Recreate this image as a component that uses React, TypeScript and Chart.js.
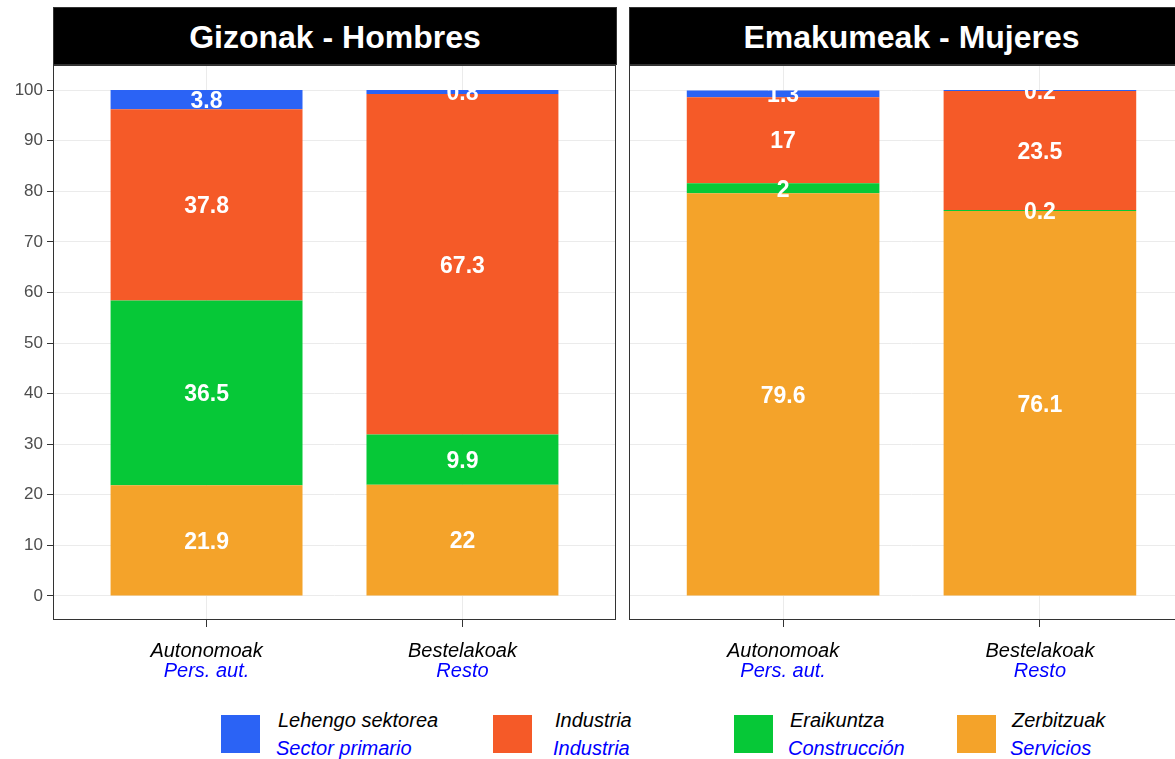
import React, { useEffect, useRef } from "react";
import { Chart, registerables } from "chart.js";

Chart.register(...registerables);

const FONT = '"Liberation Sans", Arial, Helvetica, sans-serif';

// ---- data ----
const categories = ["Autonomoak", "Bestelakoak"];
const categoriesEs = ["Pers. aut.", "Resto"];
const panelTitles = ["Gizonak - Hombres", "Emakumeak - Mujeres"];
const sectors = ["Lehengo sektorea", "Industria", "Eraikuntza", "Zerbitzuak"];
const sectorsEs = ["Sector primario", "Industria", "Construcción", "Servicios"];

const menPrimary = [3.8, 0.8];
const menIndustry = [37.8, 67.3];
const menConstruction = [36.5, 9.9];
const menServices = [21.9, 22];

const womenPrimary = [1.3, 0.2];
const womenIndustry = [17, 23.5];
const womenConstruction = [2, 0.2];
const womenServices = [79.6, 76.1];

const yTicks = [0, 10, 20, 30, 40, 50, 60, 70, 80, 90, 100];

// ---- style ----
const sectorColors = ["#2B63F5", "#F55A28", "#06C837", "#F4A32A"];
const legendKeyX = [221, 493, 734, 957];
const legendTextX = [278, 555, 790, 1012];

type Series = { primary: number[]; industry: number[]; construction: number[]; services: number[] };

const menData: Series = { primary: menPrimary, industry: menIndustry, construction: menConstruction, services: menServices };
const womenData: Series = { primary: womenPrimary, industry: womenIndustry, construction: womenConstruction, services: womenServices };

function buildChart(canvas: HTMLCanvasElement, s: Series, showY: boolean, padLeft: number, padRight: number) {
  const toPts = (arr: number[]) => arr.map((v, i) => ({ x: i + 1, y: v }));
  // bottom -> top stacking order
  const stackOrder = [
    { vals: s.services, idx: 3 },
    { vals: s.construction, idx: 2 },
    { vals: s.industry, idx: 1 },
    { vals: s.primary, idx: 0 },
  ];
  const datasets = stackOrder.map((d) => ({
    label: sectors[d.idx],
    data: toPts(d.vals),
    backgroundColor: sectorColors[d.idx],
    borderWidth: 0,
    barPercentage: 0.75,
    categoryPercentage: 1.0,
  }));

  const deco = {
    id: "deco",
    afterDatasetsDraw(chart: any) {
      const ctx = chart.ctx;
      ctx.save();
      ctx.font = `bold 23px ${FONT}`;
      ctx.fillStyle = "#FFFFFF";
      ctx.textAlign = "center";
      ctx.textBaseline = "middle";
      chart.data.datasets.forEach((ds: any, di: number) => {
        const meta = chart.getDatasetMeta(di);
        meta.data.forEach((el: any, i: number) => {
          const v = ds.data[i].y;
          const y = (el.y + el.base) / 2;
          ctx.fillText(String(v), el.x, y + 2);
        });
      });
      ctx.restore();
    },
    afterDraw(chart: any) {
      const ctx = chart.ctx;
      const a = chart.chartArea;
      ctx.save();
      ctx.strokeStyle = "#333333";
      ctx.lineWidth = 1;
      ctx.strokeRect(a.left + 0.5, a.top + 0.5, a.right - a.left - 1, a.bottom - a.top - 1);
      const xs = chart.scales.x;
      ctx.font = `italic 20px ${FONT}`;
      ctx.textAlign = "center";
      ctx.textBaseline = "alphabetic";
      categories.forEach((c, i) => {
        const x = xs.getPixelForValue(i + 1);
        ctx.fillStyle = "#000000";
        ctx.fillText(c, x, a.bottom + 37);
        ctx.fillStyle = "#0000FF";
        ctx.fillText(categoriesEs[i], x, a.bottom + 57);
      });
      ctx.restore();
    },
  };

  return new Chart(canvas, {
    type: "bar",
    data: { datasets } as any,
    options: {
      responsive: false,
      animation: false,
      events: [],
      layout: { padding: { top: 65, left: padLeft, right: padRight, bottom: 0 } },
      plugins: { legend: { display: false }, tooltip: { enabled: false } },
      scales: {
        x: {
          type: "linear",
          min: 0.4,
          max: 2.6,
          offset: false,
          stacked: true,
          border: { display: false },
          grid: { offset: false, color: "#EBEBEB", lineWidth: 1, tickColor: "#333333", tickLength: 7, drawTicks: true },
          ticks: { display: false },
          afterBuildTicks: (sc: any) => {
            sc.ticks = categories.map((_, i) => ({ value: i + 1 }));
          },
          afterFit: (sc: any) => {
            sc.height = 80;
          },
        },
        y: {
          type: "linear",
          min: -4.75,
          max: 104.95,
          stacked: true,
          border: { display: false },
          grid: { color: "#EBEBEB", lineWidth: 1, tickColor: "#333333", tickLength: 6, drawTicks: showY },
          ticks: { display: showY, color: "#4D4D4D", font: { family: FONT, size: 17 }, padding: 4 },
          afterBuildTicks: (sc: any) => {
            sc.ticks = yTicks.map((v) => ({ value: v }));
          },
          afterFit: (sc: any) => {
            sc.width = showY ? 53 : 0;
          },
        },
      },
    } as any,
    plugins: [deco],
  });
}

export default function App() {
  const leftRef = useRef<HTMLCanvasElement>(null);
  const rightRef = useRef<HTMLCanvasElement>(null);

  useEffect(() => {
    const c1 = buildChart(leftRef.current!, menData, true, 0, 4);
    const c2 = buildChart(rightRef.current!, womenData, false, 9, 6);
    return () => {
      c1.destroy();
      c2.destroy();
    };
  }, []);

  const stripStyle = (left: number, width: number): React.CSSProperties => ({
    position: "absolute",
    left,
    top: 7,
    width,
    height: 58,
    boxSizing: "border-box",
    background: "#000000",
    border: "1px solid #333333",
    color: "#FFFFFF",
    fontFamily: FONT,
    fontWeight: "bold",
    fontSize: 32,
    paddingTop: 2,
    display: "flex",
    alignItems: "center",
    justifyContent: "center",
    whiteSpace: "nowrap",
  });

  return (
    <div style={{ position: "fixed", left: 0, top: 0, width: 1175, height: 759, overflow: "hidden", background: "#FFFFFF", fontFamily: FONT }}>
      <canvas ref={leftRef} width={620} height={700} style={{ position: "absolute", left: 0, top: 0, display: "block" }} />
      <canvas ref={rightRef} width={580} height={700} style={{ position: "absolute", left: 620, top: 0, display: "block" }} />
      <div style={stripStyle(53, 564)}>{panelTitles[0]}</div>
      <div style={stripStyle(629, 565)}>{panelTitles[1]}</div>
      {sectors.map((s, i) => (
        <React.Fragment key={s}>
          <div style={{ position: "absolute", left: legendKeyX[i], top: 715, width: 39, height: 38, background: sectorColors[i] }} />
          <div style={{ position: "absolute", left: legendTextX[i], top: 710, fontSize: 20, lineHeight: "20px", fontStyle: "italic", color: "#000000", whiteSpace: "nowrap" }}>{s}</div>
          <div style={{ position: "absolute", left: legendTextX[i] - 2, top: 738, fontSize: 20, lineHeight: "20px", fontStyle: "italic", color: "#0000FF", whiteSpace: "nowrap" }}>{sectorsEs[i]}</div>
        </React.Fragment>
      ))}
    </div>
  );
}
